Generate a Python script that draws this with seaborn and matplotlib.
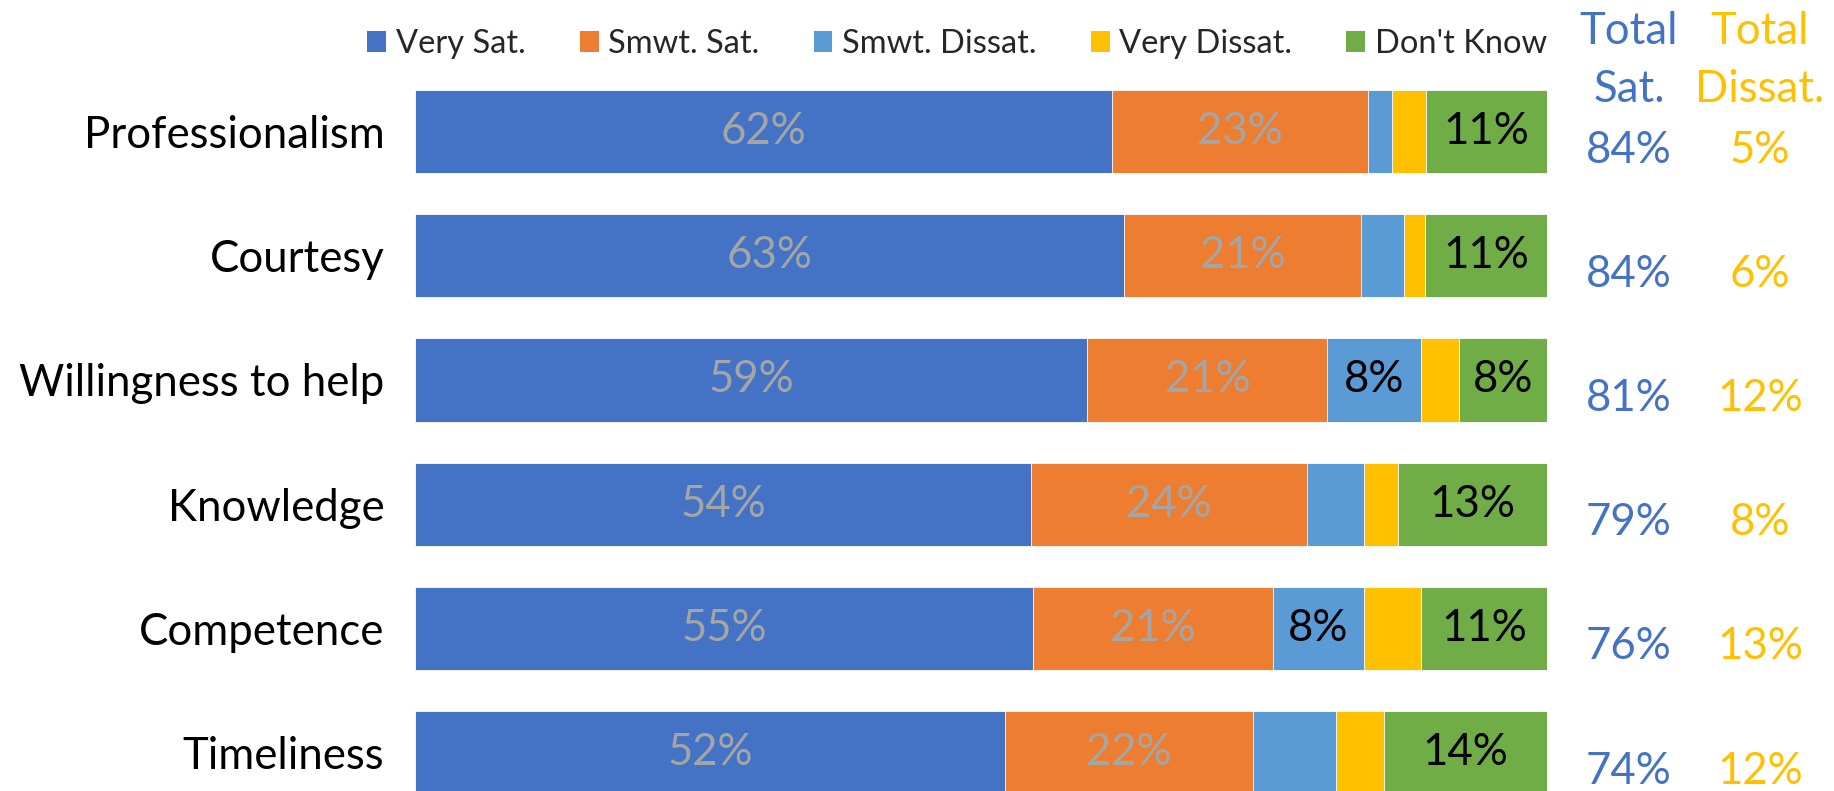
import matplotlib
matplotlib.use("Agg")
import matplotlib.pyplot as plt
import matplotlib.transforms as mtransforms
from matplotlib.patches import Patch
import seaborn as sns
import pandas as pd

# Survey results (% of respondents)
categories = ["Professionalism", "Courtesy", "Willingness to help",
              "Knowledge", "Competence", "Timeliness"]
series_names = ["Very Sat.", "Smwt. Sat.", "Smwt. Dissat.", "Very Dissat.", "Don't Know"]
very_sat = [61.6, 62.6, 59.4, 54.4, 54.6, 52.1]
smwt_sat = [22.6, 21.0, 21.2, 24.4, 21.2, 21.9]
smwt_dissat = [2.1, 3.8, 8.3, 5.0, 8.0, 7.4]
very_dissat = [3.0, 1.8, 3.3, 3.0, 5.1, 4.2]
dont_know = [10.7, 10.8, 7.8, 13.2, 11.1, 14.4]

colors = ["#4472C4", "#ED7D31", "#5B9BD5", "#FFC000", "#70AD47"]
label_colors = ["#A5A5A5", "#A5A5A5", "black", "black", "black"]
SAT_COLOR = "#4472C4"
DISSAT_COLOR = "#FFC000"

sns.set_theme(style="white")
plt.rcParams["font.family"] = ["Lato", "DejaVu Sans"]

series = [very_sat, smwt_sat, smwt_dissat, very_dissat, dont_know]
df = pd.DataFrame({name: vals for name, vals in zip(series_names, series)})
df.insert(0, "Category", categories)
cum = df[series_names].cumsum(axis=1)

W, H = 1834, 791
fig = plt.figure(figsize=(W / 100, H / 100), dpi=100)
ax = fig.add_axes([415 / W, 0, (1547 - 415) / W, 1])

# Stacked bars: draw cumulative totals from the widest down
for k in range(len(series_names) - 1, -1, -1):
    sns.barplot(x=cum[series_names[k]], y=df["Category"], orient="h",
                color=colors[k], saturation=1, width=0.67,
                edgecolor="white", linewidth=0.6, ax=ax)

# Segment labels
for k, name in enumerate(series_names):
    for i, v in enumerate(df[name]):
        if round(v) >= 8:
            xc = cum[name].iloc[i] - v / 2
            ax.text(xc, i, f"{v:.0f}%", ha="center", va="center",
                    fontsize=31.5, color=label_colors[k])

ax.set_xlim(0, 100)
ax.set_ylim(5.31, -1.059)
ax.set_xlabel("")
ax.set_ylabel("")
ax.set_xticks([])
ax.tick_params(axis="y", length=0, pad=22, labelsize=31.5, labelcolor="black")
for s in ax.spines.values():
    s.set_visible(False)

# Totals columns
total_sat = [a + b for a, b in zip(very_sat, smwt_sat)]
total_dissat = [a + b for a, b in zip(smwt_dissat, very_dissat)]
trans = mtransforms.blended_transform_factory(fig.transFigure, ax.transData)
x_sat, x_dis = 1629 / W, 1760 / W
for i in range(len(categories)):
    ax.text(x_sat, i + 0.15, f"{total_sat[i]:.0f}%", transform=trans,
            ha="center", va="center", fontsize=31.5, color=SAT_COLOR, clip_on=False)
    ax.text(x_dis, i + 0.15, f"{total_dissat[i]:.0f}%", transform=trans,
            ha="center", va="center", fontsize=31.5, color=DISSAT_COLOR, clip_on=False)

fig.text(x_sat, 1 - 31 / H, "Total", ha="center", va="center", fontsize=31.5, color=SAT_COLOR)
fig.text(x_sat, 1 - 89 / H, "Sat.", ha="center", va="center", fontsize=31.5, color=SAT_COLOR)
fig.text(x_dis, 1 - 31 / H, "Total", ha="center", va="center", fontsize=31.5, color=DISSAT_COLOR)
fig.text(x_dis, 1 - 89 / H, "Dissat.", ha="center", va="center", fontsize=31.5, color=DISSAT_COLOR)

handles = [Patch(facecolor=c, edgecolor="none") for c in colors]
fig.legend(handles, series_names, loc="center right",
           bbox_to_anchor=(1547 / W, 1 - 44 / H), ncol=5, frameon=False,
           fontsize=23.5, handlelength=0.58, handleheight=0.58,
           handletextpad=0.3, columnspacing=1.65, borderaxespad=0, borderpad=0)

fig.savefig("out.png", dpi=100)
